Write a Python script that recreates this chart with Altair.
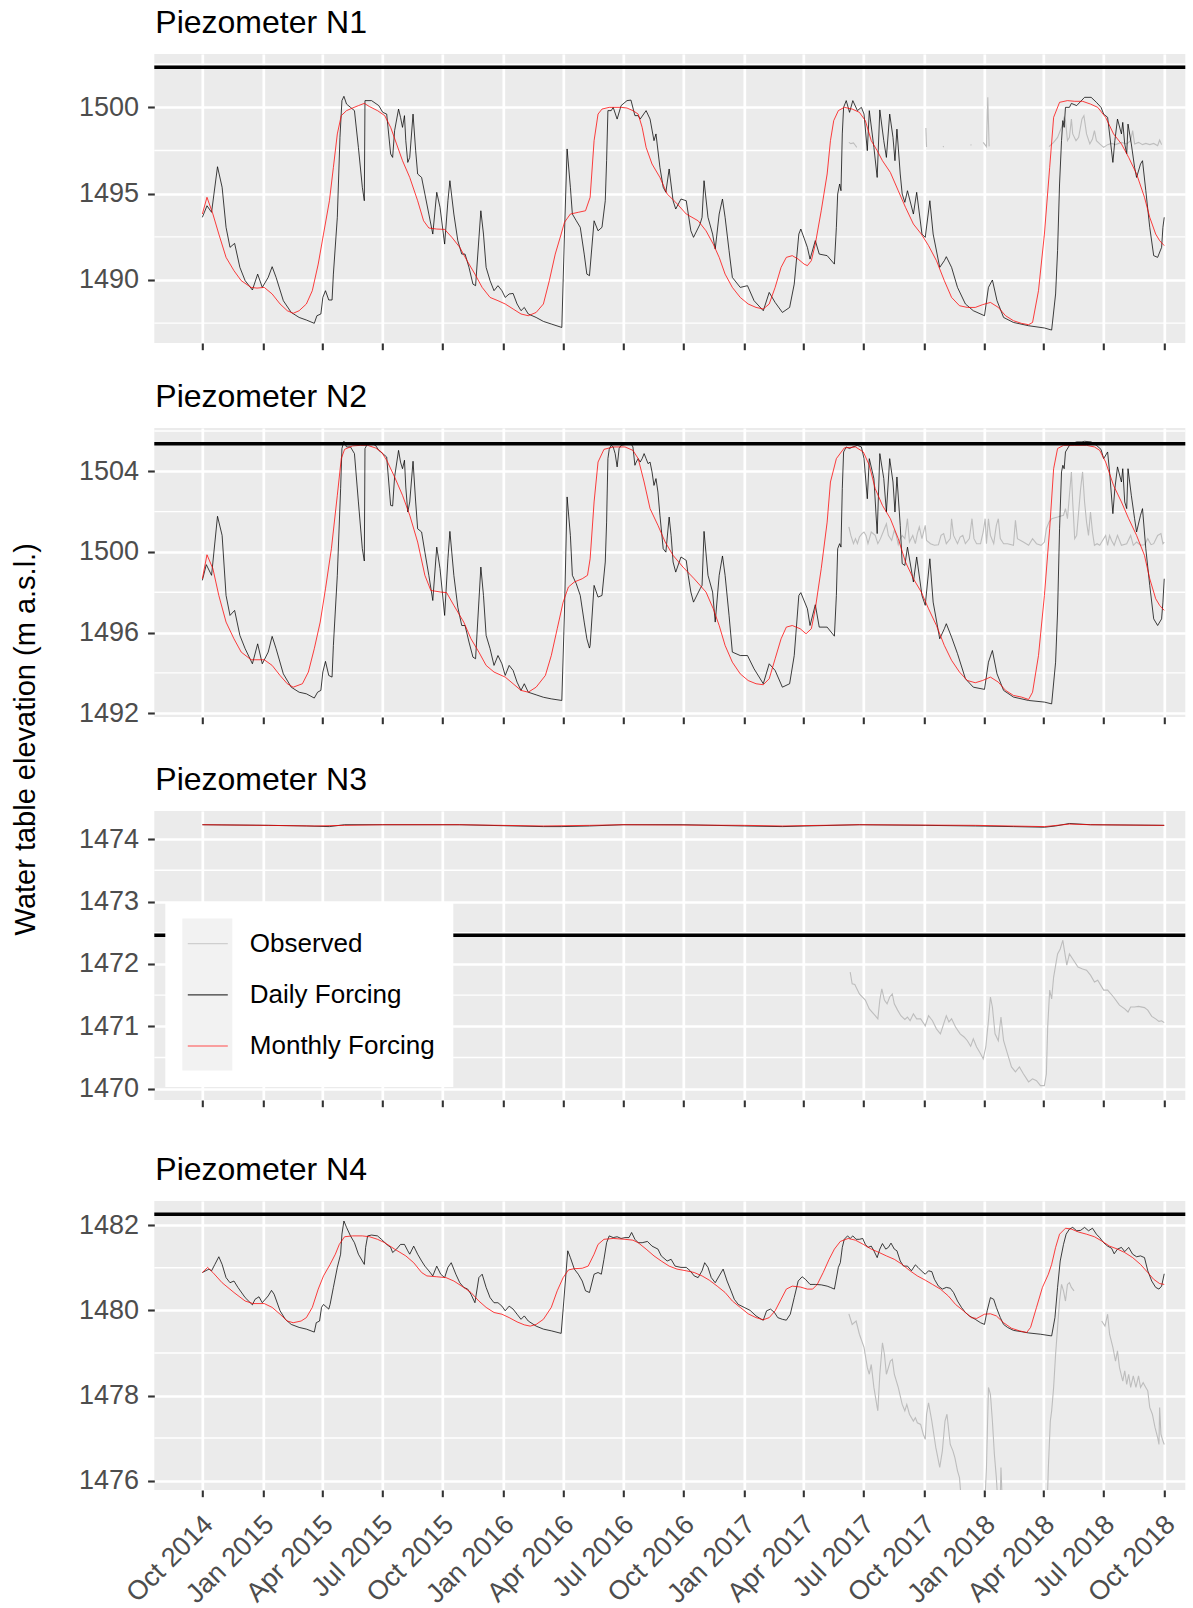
import altair as alt
import pandas as pd

FONT = "Liberation Sans"
START = pd.Timestamp("2014-10-01")

# ---------------- Piezometer N1 ----------------
n1_daily_days = [0,7,14,23,30,36,42,49,57,65,76,84,91,100,106,112,123,135,147,158,170,174,180,183,187,192,197,199,205,209,
 212,215,219,225,231,237,243,246,247,257,268,274,280,286,289,292,298,301,304,307,309,312,315,320,324,327,333,338,344,350,
 356,361,368,373,376,382,388,394,399,405,411,415,423,427,431,437,443,449,455,460,466,472,478,484,489,495,507,518,530,546,
 550,554,559,562,568,574,580,584,588,
 595,601,607,612,614,616,621,624,630,636,645,651,657,662,665,674,680,686,689,695,700,704,709,715,719,727,735,742,746,756,
 759,762,768,775,779,785,790,794,800,805,817,828,838,852,861,870,881,892,899,906,909,919,923,931,937,949,960,963,965,968,
 970,972,974,978,983,988,995,1001,1005,1010,1013,1020,1025,1029,1035,1039,1044,1049,1052,1055,1060,1063,1067,1071,1080,
 1085,1093,1098,1105,1110,1120,1127,1130,1138,1147,1159,1171,1188,1194,1200,1207,1217,1232,1255,1279,1290,1296,1299,1302,
 1305,1307,1309,1311,1317,1320,1328,1336,1340,1350,1358,1365,1369,1375,1378,1383,1386,1390,1396,1398,1401,1404,1406,1411,
 1416,1419,1425,1428,1433,1439,1445,1451,1457,1459,1461]
n1_daily_vals = [1493.63,1494.30,1493.92,1496.56,1495.37,1493.05,1491.89,1492.12,1490.73,1489.96,1489.42,1490.34,1489.57,
 1490.15,1490.77,1490.15,1488.80,1488.12,1487.83,1487.68,1487.49,1487.93,1488.03,1488.99,1489.38,1488.84,1488.84,1490.34,
 1493.63,1498.26,1500.39,1500.64,1500.19,1500.00,1499.81,1497.68,1495.37,1494.59,1500.39,1500.39,1500.10,1499.71,1499.61,
 1497.30,1497.10,1498.65,1499.90,1499.42,1498.84,1499.52,1498.07,1496.81,1497.10,1499.61,1497.49,1496.14,1495.94,1494.98,
 1493.82,1492.66,1495.08,1494.21,1492.08,1494.59,1495.75,1493.82,1492.28,1491.50,1491.50,1490.73,1489.76,1489.67,1494.01,
 1492.66,1490.73,1489.96,1489.38,1489.67,1489.38,1488.99,1489.19,1489.22,1488.61,1488.22,1488.41,1488.03,1487.83,1487.60,
 1487.45,1487.25,1492.66,1497.59,1495.37,1493.82,1493.43,1493.05,1491.50,1490.34,1490.25,
 1493.43,1492.85,1493.05,1494.59,1496.91,1499.81,1499.81,1500.00,1499.32,1500.10,1500.39,1500.42,1499.52,1499.52,1499.32,
 1499.81,1499.32,1498.07,1498.46,1496.52,1495.37,1495.08,1496.43,1494.59,1494.11,1494.69,1494.59,1492.85,1492.47,1493.24,
 1493.63,1495.75,1493.63,1492.66,1491.79,1493.82,1494.69,1493.63,1491.70,1490.15,1489.57,1489.67,1488.80,1488.22,1489.28,
 1488.70,1488.12,1488.41,1489.76,1492.66,1492.95,1491.89,1491.21,1492.28,1491.50,1491.41,1490.92,1493.05,1494.98,1495.56,
 1495.17,1498.46,1500.00,1500.39,1499.71,1500.39,1499.81,1500.00,1499.61,1497.49,1499.81,1497.68,1495.94,1499.85,1498.07,
 1497.10,1499.61,1498.26,1496.91,1498.74,1496.14,1494.98,1494.50,1495.17,1493.82,1495.08,1492.66,1492.47,1494.59,1492.66,
 1490.73,1491.12,1491.35,1490.73,1489.57,1488.61,1488.22,1487.93,1489.57,1490.00,1488.80,1487.83,1487.54,1487.35,1487.22,
 1487.10,1489.19,1491.70,1495.56,1498.07,1499.23,1498.84,1500.00,1500.00,1500.23,1500.10,1500.42,1500.58,1500.58,1500.29,
 1500.00,1499.61,1499.42,1498.46,1496.81,1498.07,1499.32,1498.46,1499.13,1497.88,1497.30,1499.03,1497.88,1496.52,1495.94,
 1496.72,1496.91,1495.17,1493.05,1491.41,1491.31,1491.89,1493.05,1493.63]
n1_monthly_days = [0,7,16,25,36,48,59,74,83,94,106,118,129,138,147,158,167,176,184,193,199,205,211,219,228,237,246,254,266,
 277,286,295,304,315,327,336,344,356,368,379,391,402,414,425,437,449,460,472,484,495,507,518,527,536,545,550,559,571,582,
 589,595,601,607,618,636,645,654,662,668,674,683,695,706,719,735,753,765,776,785,794,805,817,829,841,852,861,870,879,887,
 896,905,914,919,925,931,940,949,954,959,966,975,987,998,1007,1016,1025,1033,1045,1057,1068,1080,1092,1103,1115,1127,1138,
 1150,1162,1174,1185,1197,1209,1220,1232,1244,1255,1261,1270,1279,1287,1293,1302,1314,1325,1337,1349,1360,1372,1384,1396,
 1407,1419,1431,1439,1448,1454,1461]
n1_monthly_vals = [1493.82,1494.79,1493.82,1492.66,1491.31,1490.54,1489.96,1489.57,1489.53,1489.57,1489.19,1488.61,1488.22,
 1488.07,1488.22,1488.61,1489.38,1490.92,1492.66,1494.59,1496.52,1498.46,1499.52,1499.81,1499.96,1500.10,1500.23,1500.04,
 1499.81,1499.52,1498.84,1497.88,1496.91,1495.94,1494.59,1493.43,1493.01,1492.95,1492.93,1492.47,1491.89,1491.12,1490.34,
 1489.57,1488.99,1488.80,1488.61,1488.32,1488.03,1487.93,1488.12,1488.61,1489.96,1491.50,1492.66,1493.34,1493.82,1493.92,
 1494.01,1494.79,1498.07,1499.61,1499.90,1500.00,1500.00,1499.96,1499.81,1499.61,1498.84,1497.68,1496.72,1495.94,1494.98,
 1494.50,1493.82,1493.43,1492.85,1492.08,1491.31,1490.34,1489.57,1488.99,1488.61,1488.41,1488.32,1488.61,1489.57,1490.73,
 1491.31,1491.41,1491.21,1490.92,1490.83,1491.12,1492.08,1494.01,1496.14,1498.07,1499.23,1499.81,1500.00,1499.90,1499.71,
 1499.23,1498.07,1497.49,1496.91,1496.23,1495.17,1494.21,1493.24,1492.66,1491.99,1491.12,1489.96,1488.99,1488.51,1488.41,
 1488.41,1488.57,1488.70,1488.41,1487.93,1487.64,1487.49,1487.41,1487.54,1489.38,1492.66,1496.52,1499.42,1500.29,1500.39,
 1500.35,1500.35,1500.19,1500.00,1499.42,1498.46,1497.88,1497.10,1496.14,1494.79,1493.63,1492.66,1492.28,1491.99]
n1_observed = [
 ([982,985,989,992,994], [1497.97,1497.90,1497.94,1497.79,1497.68]),
 ([1099,1100], [1498.80,1497.70]),
 ([1125,1126], [1497.75,1497.70]),
 ([1167,1168], [1497.85,1497.80]),
 ([1186,1191,1193,1195], [1497.97,1497.72,1500.58,1497.74]),
 ([1286,1293,1299,1305,1309,1311,1314,1317,1320,1322,1327,1331,1336,1339,1343,1348,1352,1355,1358,1363,1369,1375,1381,
   1387,1396,1404,1410,1413,1416,1422,1428,1433,1439,1445,1451,1454,1457],
  [1497.72,1497.97,1498.26,1498.84,1499.42,1499.23,1498.07,1498.26,1499.32,1498.46,1498.07,1498.26,1499.32,1499.52,1498.46,
   1497.88,1498.17,1498.65,1498.07,1497.88,1497.68,1497.84,1497.91,1497.84,1497.97,1497.88,1498.07,1498.65,1497.88,1497.97,
   1497.84,1497.91,1497.84,1497.91,1497.78,1498.11,1497.84]),
]
n1_surface = 1502.32

# ---------------- Piezometer N2 ----------------
n2_daily_days = [0,6,14,23,30,36,42,49,57,65,76,84,91,100,106,112,123,135,147,158,170,175,180,183,187,192,197,199,205,210,
 212,215,219,225,231,237,243,246,247,251,257,263,268,274,280,286,289,292,298,301,304,307,309,312,315,320,324,327,333,338,
 344,350,356,361,368,373,376,382,388,394,399,405,411,415,423,427,431,437,443,449,455,460,466,472,478,484,489,495,507,518,
 530,546,550,554,559,562,568,574,580,584,588,
 589,595,601,607,612,614,616,618,621,624,627,630,633,636,641,645,651,654,657,659,662,665,668,671,674,677,680,683,686,689,
 692,695,700,704,709,712,715,719,727,735,738,742,746,756,759,762,768,775,779,785,790,794,800,805,817,828,838,852,861,870,
 881,892,899,906,909,919,923,931,937,949,960,963,965,968,970,972,974,978,983,988,995,1001,1005,1010,1013,1020,1025,1029,
 1035,1039,1044,1049,1052,1055,1060,1063,1067,1071,1080,1085,1093,1098,1105,1110,1120,1127,1130,1138,1147,1159,1171,1188,
 1194,1200,1207,1217,1232,1255,1279,1290,1296,1299,1302,1305,1307,1309,1311,1317,1320,1328,1336,1340,1350,1358,1365,1369,
 1375,1378,1383,1386,1390,1396,1398,1401,1404,1406,1411,1416,1419,1425,1428,1433,1439,1445,1451,1457,1459,1461]
n2_daily_vals = [1498.59,1499.37,1498.84,1501.77,1500.82,1497.84,1496.85,1497.10,1495.86,1495.20,1494.45,1495.44,1494.45,
 1495.03,1495.81,1495.20,1493.95,1493.29,1493.04,1492.96,1492.75,1493.04,1493.13,1494.04,1494.57,1493.87,1493.79,1495.36,
 1498.84,1503.14,1505.13,1505.49,1505.21,1505.21,1504.88,1502.48,1500.16,1499.55,1505.13,1505.37,1505.37,1505.29,1505.04,
 1504.88,1504.71,1502.31,1502.28,1503.72,1505.04,1504.46,1504.13,1504.55,1503.22,1501.98,1502.48,1504.50,1502.48,1501.15,
 1500.99,1499.99,1498.84,1497.59,1500.24,1499.17,1496.85,1499.66,1501.02,1498.84,1497.26,1496.35,1496.35,1495.53,1494.78,
 1494.70,1499.25,1497.84,1495.86,1495.20,1494.37,1494.86,1494.45,1493.87,1494.37,1494.12,1493.54,1493.13,1493.46,1493.04,
 1492.91,1492.79,1492.71,1492.63,1497.02,1502.73,1500.82,1498.84,1498.42,1497.84,1496.52,1495.69,1495.23,
 1495.36,1498.34,1497.76,1497.84,1499.50,1501.48,1504.63,1505.09,1505.29,1505.21,1504.88,1504.22,1505.13,1505.29,1505.32,
 1505.37,1505.37,1505.21,1504.30,1504.46,1504.63,1504.46,1504.63,1504.88,1504.63,1504.38,1504.46,1503.97,1503.30,1503.64,
 1502.97,1501.82,1500.16,1499.99,1501.73,1500.82,1499.50,1499.00,1499.75,1499.58,1498.84,1498.01,1497.51,1498.17,1498.34,
 1501.02,1498.84,1498.01,1496.52,1498.84,1499.80,1498.84,1496.85,1495.03,1494.86,1494.86,1494.20,1493.46,1494.45,1494.12,
 1493.29,1493.46,1494.86,1497.84,1497.98,1497.18,1496.35,1497.38,1496.27,1496.27,1495.82,1497.84,1500.16,1500.41,1500.24,
 1503.14,1504.96,1505.21,1505.13,1505.21,1505.29,1505.21,1504.63,1502.64,1504.63,1503.64,1500.91,1504.88,1503.64,1501.98,
 1504.63,1503.47,1501.98,1503.72,1501.32,1499.42,1499.33,1500.24,1498.51,1499.75,1497.84,1497.35,1499.66,1497.51,1495.69,
 1496.19,1496.44,1495.77,1494.95,1493.71,1493.29,1493.18,1494.53,1495.11,1493.95,1493.13,1492.80,1492.63,1492.55,1492.46,
 1494.53,1497.02,1501.15,1503.97,1504.30,1504.13,1504.96,1505.29,1505.37,1505.46,1505.46,1505.49,1505.46,1505.29,1505.09,
 1504.63,1504.96,1503.97,1501.90,1503.14,1504.22,1503.47,1504.13,1502.48,1502.15,1504.13,1502.81,1501.65,1500.99,1501.82,
 1502.15,1500.16,1498.34,1496.68,1496.35,1496.68,1497.51,1498.67]
n2_monthly_days = [0,7,16,25,36,48,59,74,94,106,118,129,138,152,161,170,179,187,196,205,211,216,228,240,251,263,272,280,292,
 304,315,327,338,347,362,371,382,397,408,420,431,443,460,472,484,495,507,521,530,539,548,556,565,577,585,589,595,601,610,
 624,642,654,662,671,680,692,703,715,730,747,765,776,785,794,805,817,829,841,852,861,870,879,887,896,908,917,925,931,940,
 949,954,963,975,992,1004,1013,1022,1033,1045,1057,1068,1080,1092,1103,1115,1127,1138,1150,1162,1174,1185,1197,1209,1220,
 1232,1244,1255,1261,1270,1279,1287,1293,1299,1308,1325,1343,1355,1363,1372,1384,1396,1407,1419,1431,1439,1448,1454,1461]
n2_monthly_vals = [1498.67,1499.86,1499.17,1497.84,1496.52,1495.69,1495.03,1494.65,1494.65,1494.37,1493.87,1493.46,1493.29,
 1493.46,1494.04,1495.20,1496.52,1498.17,1500.16,1502.81,1504.63,1505.09,1505.26,1505.29,1505.29,1505.16,1504.96,1504.55,
 1503.72,1502.81,1501.82,1500.49,1498.84,1498.09,1498.01,1497.98,1497.35,1496.52,1495.69,1495.03,1494.37,1494.04,1493.79,
 1493.46,1493.13,1493.04,1493.29,1493.87,1494.86,1496.19,1497.51,1498.26,1498.51,1498.67,1498.84,1499.66,1502.48,1504.46,
 1505.09,1505.21,1505.21,1505.04,1504.63,1503.47,1502.15,1501.32,1500.49,1499.83,1499.25,1498.67,1498.01,1497.18,1496.35,
 1495.36,1494.53,1493.95,1493.62,1493.46,1493.41,1493.71,1494.70,1495.69,1496.27,1496.35,1496.19,1495.94,1496.19,1497.18,
 1499.17,1501.48,1503.47,1504.63,1505.16,1505.21,1504.96,1504.30,1503.14,1502.31,1501.65,1500.66,1499.50,1498.67,1498.01,
 1497.18,1496.35,1495.36,1494.62,1494.04,1493.62,1493.51,1493.62,1493.79,1493.54,1493.13,1492.88,1492.80,1492.68,1493.04,
 1494.86,1497.84,1501.15,1504.13,1505.13,1505.29,1505.29,1505.29,1505.21,1505.04,1504.46,1503.30,1502.48,1501.65,1500.82,
 1499.83,1498.67,1497.68,1497.35,1497.10]
n2_observed = [
 ([982,985,989,992,995,998,1002,1005,1008,1011,1016,1022,1026,1030,1036,1039,1042,1047,1051,1054,1057,1060,1063,1067,1071,
   1074,1079,1083,1086,1089,1093,1098,1100,1106,1112,1118,1122,1126,1130,1136,1138,1141,1147,1151,1155,1159,1165,1169,1172,
   1176,1182,1186,1189,1191,1194,1197,1202,1206,1209,1212,1217,1223,1232,1235,1238,1247,1255,1261,1267,1274,1279,1282,1286,
   1290,1299,1308,1311,1314,1317,1320,1322,1325,1328,1331,1334,1337,1340,1343,1346,1349,1352,1355,1359,1363,1372,1375,1378,
   1381,1385,1390,1396,1404,1410,1414,1419,1425,1431,1436,1441,1445,1451,1456,1459,1461],
  [1501.24,1500.82,1500.41,1500.66,1500.41,1500.74,1500.91,1500.99,1500.82,1500.41,1500.99,1500.82,1500.41,1500.66,1501.15,
   1501.40,1500.82,1500.57,1501.07,1500.82,1500.36,1500.66,1500.82,1500.66,1501.65,1500.49,1500.82,1500.41,1500.91,1501.24,
   1500.66,1501.32,1500.57,1500.41,1500.33,1500.36,1500.82,1500.91,1500.41,1500.66,1501.65,1500.82,1500.41,1500.74,1500.82,
   1500.41,1500.66,1501.65,1500.66,1500.41,1500.41,1500.99,1501.65,1500.41,1501.65,1500.82,1500.41,1501.32,1501.65,1500.66,
   1500.41,1500.41,1500.33,1501.57,1500.66,1500.49,1500.33,1500.66,1500.41,1500.33,1500.49,1501.15,1501.48,1501.65,1501.73,
   1501.82,1502.15,1501.65,1502.81,1503.97,1502.48,1500.66,1500.82,1501.98,1503.14,1503.97,1502.48,1501.48,1500.82,1501.98,
   1500.99,1500.33,1500.41,1500.33,1500.82,1500.33,1500.82,1500.57,1500.33,1500.82,1500.33,1500.41,1500.82,1500.33,1500.49,
   1500.33,1500.36,1500.66,1500.36,1500.41,1500.82,1500.91,1500.41,1500.49]),
]
n2_surface = 1505.37

# ---------------- Piezometer N3 ----------------
n3_daily_days = [0,100,158,193,216,274,391,518,546,588,639,730,823,881,917,998,1098,1174,1232,1279,1296,1317,1349,1461]
n3_daily_vals = [1474.23,1474.22,1474.21,1474.20,1474.23,1474.23,1474.23,1474.20,1474.20,1474.21,1474.23,1474.23,1474.21,
 1474.20,1474.21,1474.23,1474.22,1474.21,1474.20,1474.19,1474.21,1474.25,1474.23,1474.22]
n3_monthly_days = [0,100,170,216,274,391,518,588,639,823,881,998,1174,1279,1317,1349,1461]
n3_monthly_vals = [1474.23,1474.22,1474.21,1474.22,1474.23,1474.23,1474.21,1474.22,1474.23,1474.22,1474.21,1474.23,1474.22,
 1474.20,1474.24,1474.23,1474.22]
n3_observed = [
 ([984,987,991,998,1007,1013,1022,1026,1029,1032,1036,1040,1044,1048,1051,1056,1061,1067,1071,1075,1080,1085,1091,1098,1103,
   1109,1115,1121,1126,1130,1134,1138,1144,1151,1157,1162,1167,1171,1176,1182,1186,1190,1194,1197,1200,1204,1209,1213,1217,
   1223,1229,1235,1241,1247,1255,1261,1267,1273,1279,1282,1284,1287,1290,1293,1299,1303,1307,1309,1313,1317,1322,1330,1337,
   1343,1349,1355,1360,1369,1375,1384,1393,1401,1406,1410,1416,1422,1431,1436,1442,1448,1453,1457,1461],
  [1471.87,1471.68,1471.67,1471.52,1471.42,1471.28,1471.17,1471.12,1471.42,1471.60,1471.42,1471.36,1471.47,1471.52,1471.36,
   1471.26,1471.17,1471.11,1471.15,1471.09,1471.20,1471.12,1471.12,1471.01,1471.17,1471.09,1470.96,1470.88,1471.04,1471.17,
   1471.07,1471.12,1470.99,1470.88,1470.83,1470.77,1470.68,1470.80,1470.67,1470.56,1470.48,1470.67,1471.09,1471.47,1471.31,
   1470.88,1470.77,1471.15,1470.77,1470.56,1470.35,1470.27,1470.35,1470.24,1470.11,1470.16,1470.13,1470.05,1470.05,1470.24,
   1470.99,1471.58,1471.44,1471.79,1472.16,1472.24,1472.38,1472.24,1471.98,1472.16,1472.08,1471.95,1471.92,1471.90,1471.82,
   1471.71,1471.74,1471.58,1471.58,1471.47,1471.34,1471.28,1471.23,1471.31,1471.31,1471.32,1471.30,1471.26,1471.16,1471.12,
   1471.08,1471.09,1471.06]),
]
n3_surface = 1472.46

# ---------------- Piezometer N4 ----------------
n4_daily_days = [0,10,14,19,25,30,36,42,48,54,65,76,80,86,91,100,105,109,118,126,135,147,158,170,173,178,181,184,192,194,
 199,205,210,212,215,219,225,231,237,243,246,248,251,257,266,272,280,286,289,295,301,307,312,315,321,327,333,338,344,350,
 356,362,368,373,378,385,391,397,403,408,414,420,425,431,437,443,449,455,460,466,472,478,484,489,495,507,518,530,545,549,
 555,559,565,571,577,582,588,
 595,601,606,610,614,618,624,630,636,642,648,652,657,662,668,676,683,692,697,706,712,718,727,735,741,747,753,759,763,768,
 773,779,785,791,797,803,808,814,823,832,841,849,852,857,863,869,874,881,887,893,899,905,911,916,923,931,940,949,954,960,
 966,969,972,975,980,984,988,993,998,1003,1007,1011,1016,1020,1025,1029,1033,1038,1042,1046,1051,1055,1060,1065,1071,1077,
 1083,1087,1092,1098,1103,1108,1112,1118,1124,1130,1136,1141,1147,1153,1159,1165,1174,1182,1188,1192,1197,1202,1206,1212,
 1217,1223,1232,1244,1255,1273,1290,1295,1299,1303,1308,1312,1317,1322,1328,1334,1340,1346,1352,1358,1363,1369,1375,1381,
 1385,1390,1396,1401,1407,1413,1419,1425,1431,1436,1442,1448,1453,1457,1461]
n4_daily_vals = [1480.89,1480.97,1480.93,1481.08,1481.26,1481.08,1480.77,1480.65,1480.69,1480.54,1480.30,1480.13,1480.26,
 1480.32,1480.18,1480.34,1480.47,1480.38,1479.99,1479.79,1479.67,1479.60,1479.56,1479.49,1479.71,1479.75,1480.07,1480.14,
 1480.03,1480.14,1480.54,1481.01,1481.32,1481.79,1482.10,1481.95,1481.75,1481.59,1481.32,1481.16,1481.08,1481.48,1481.75,
 1481.77,1481.75,1481.67,1481.55,1481.48,1481.36,1481.44,1481.55,1481.55,1481.40,1481.32,1481.51,1481.32,1481.16,1481.04,
 1480.93,1480.81,1481.04,1480.85,1480.77,1481.01,1481.12,1480.85,1480.65,1480.54,1480.50,1480.38,1480.18,1480.77,1480.85,
 1480.54,1480.30,1480.18,1480.18,1480.10,1479.99,1480.10,1480.03,1479.91,1479.79,1479.87,1479.75,1479.63,1479.56,1479.52,
 1479.46,1480.22,1481.40,1481.24,1480.97,1480.85,1480.69,1480.46,1480.42,
 1480.85,1480.89,1480.85,1481.20,1481.59,1481.75,1481.71,1481.73,1481.69,1481.71,1481.71,1481.83,1481.67,1481.59,1481.59,
 1481.62,1481.51,1481.44,1481.28,1481.16,1481.20,1481.04,1481.01,1481.01,1480.93,1480.81,1480.77,1480.93,1481.12,1481.01,
 1480.77,1480.65,1480.81,1480.97,1480.69,1480.46,1480.26,1480.14,1480.07,1480.00,1479.87,1479.79,1479.77,1479.99,1480.03,
 1479.95,1479.83,1479.79,1479.77,1479.91,1480.30,1480.69,1480.79,1480.73,1480.61,1480.61,1480.60,1480.57,1480.54,1480.50,
 1481.01,1481.12,1481.48,1481.67,1481.75,1481.69,1481.75,1481.67,1481.67,1481.69,1481.55,1481.48,1481.51,1481.40,1481.24,
 1481.44,1481.57,1481.44,1481.48,1481.58,1481.44,1481.40,1481.16,1481.04,1481.04,1480.93,1481.07,1481.01,1480.93,1480.85,
 1480.93,1480.91,1480.73,1480.57,1480.50,1480.54,1480.52,1480.42,1480.22,1480.07,1479.95,1479.87,1479.79,1479.71,1479.67,
 1479.99,1480.30,1480.26,1480.07,1479.83,1479.67,1479.60,1479.53,1479.50,1479.47,1479.44,1479.40,1479.83,1480.54,1481.16,
 1481.55,1481.79,1481.91,1481.95,1481.87,1481.88,1481.95,1481.87,1481.93,1481.79,1481.71,1481.59,1481.51,1481.46,1481.33,
 1481.44,1481.48,1481.38,1481.48,1481.32,1481.26,1481.28,1481.24,1480.93,1480.69,1480.54,1480.50,1480.57,1480.86]
n4_monthly_days = [0,8,16,30,48,65,77,94,106,118,129,138,150,158,167,176,184,194,202,208,216,228,243,254,266,277,292,309,321,
 333,341,356,370,382,397,408,420,431,443,455,466,478,489,498,507,518,530,539,548,556,565,577,586,595,601,610,624,642,654,
 662,674,686,697,709,721,735,747,759,770,782,794,805,817,829,841,852,861,870,879,887,896,908,919,927,934,943,952,960,969,
 981,992,1004,1016,1028,1039,1051,1063,1074,1086,1098,1109,1121,1133,1144,1156,1168,1176,1188,1197,1206,1217,1229,1241,
 1252,1258,1267,1276,1285,1290,1296,1302,1311,1320,1331,1343,1355,1366,1378,1390,1401,1413,1425,1436,1445,1454,1461]
n4_monthly_vals = [1480.89,1481.01,1480.89,1480.65,1480.42,1480.22,1480.16,1480.16,1480.07,1479.91,1479.75,1479.71,1479.75,
 1479.83,1480.07,1480.50,1480.81,1481.08,1481.32,1481.55,1481.73,1481.75,1481.75,1481.73,1481.67,1481.59,1481.44,1481.28,
 1481.12,1480.89,1480.81,1480.79,1480.77,1480.69,1480.54,1480.42,1480.22,1480.07,1479.95,1479.91,1479.83,1479.73,1479.66,
 1479.63,1479.67,1479.79,1480.07,1480.46,1480.77,1480.95,1480.98,1480.99,1481.04,1481.32,1481.55,1481.67,1481.69,1481.67,
 1481.65,1481.59,1481.44,1481.28,1481.16,1481.04,1480.97,1480.93,1480.89,1480.81,1480.71,1480.57,1480.42,1480.22,1480.07,
 1479.92,1479.83,1479.78,1479.83,1479.99,1480.26,1480.50,1480.57,1480.55,1480.50,1480.50,1480.61,1480.89,1481.20,1481.44,
 1481.62,1481.69,1481.65,1481.55,1481.44,1481.36,1481.28,1481.20,1481.08,1480.94,1480.81,1480.71,1480.61,1480.50,1480.34,
 1480.14,1479.99,1479.83,1479.81,1479.91,1479.92,1479.87,1479.71,1479.58,1479.52,1479.48,1479.60,1480.07,1480.54,1480.85,
 1481.08,1481.48,1481.79,1481.93,1481.91,1481.84,1481.79,1481.73,1481.63,1481.51,1481.44,1481.36,1481.24,1481.08,1480.89,
 1480.73,1480.63,1480.61]
n4_observed = [
 ([982,987,993,998,1005,1010,1013,1016,1020,1025,1026,1029,1033,1036,1039,1045,1048,1051,1057,1063,1067,1070,1074,1080,1083,
   1086,1091,1095,1098,1100,1103,1108,1114,1120,1124,1128,1131,1136,1140,1143,1147,1150,1154,1188,1191,1194,1197,1200,1203,
   1206,1209,1212,1213,1215,1283,1285,1288,1290,1293,1296,1299,1302,1305,1308,1311,1314,1317,1320,1324],
  [1479.92,1479.67,1479.75,1479.44,1479.13,1478.66,1478.50,1478.73,1478.19,1477.72,1477.64,1478.50,1479.24,1478.97,1478.50,
   1478.81,1478.85,1478.50,1478.19,1477.79,1477.64,1477.79,1477.56,1477.40,1477.48,1477.36,1477.32,1477.09,1476.97,1477.56,
   1477.83,1477.40,1476.78,1476.31,1476.70,1477.40,1477.56,1476.85,1476.70,1476.54,1476.23,1476.07,1475.30,1475.30,1476.31,
   1478.19,1478.03,1477.40,1476.62,1476.07,1475.30,1475.60,1476.31,1475.50,1475.30,1476.31,1477.40,1477.64,1478.19,1478.97,
   1479.60,1480.22,1480.61,1480.46,1480.22,1480.61,1480.65,1480.54,1480.46]),
 ([1366,1371,1375,1378,1383,1387,1390,1393,1398,1401,1404,1407,1410,1414,1418,1422,1425,1429,1433,1436,1439,1443,1447,1451,
   1453,1454,1456,1459,1461],
  [1479.75,1479.63,1479.91,1479.44,1479.13,1478.81,1479.05,1478.66,1478.34,1478.58,1478.26,1478.50,1478.19,1478.46,1478.19,
   1478.46,1478.19,1478.30,1478.19,1478.11,1477.72,1477.56,1477.25,1477.01,1476.85,1477.72,1477.09,1476.93,1476.85]),
]
n4_surface = 1482.26

# ---------------- axes / legend ----------------
panel_names = ["Piezometer N1", "Piezometer N2", "Piezometer N3", "Piezometer N4"]
y_domains = [[1486.35, 1503.09], [1491.81, 1506.15], [1469.82, 1474.45], [1475.78, 1482.57]]
y_major = [[1490, 1495, 1500], [1492, 1496, 1500, 1504], [1470, 1471, 1472, 1473, 1474], [1476, 1478, 1480, 1482]]
y_minor = [[1487.5, 1492.5, 1497.5, 1502.5], [1494, 1498, 1502, 1506], [1470.5, 1471.5, 1472.5, 1473.5], [1477, 1479, 1481]]
tick_months = [(2014, 10), (2015, 1), (2015, 4), (2015, 7), (2015, 10), (2016, 1), (2016, 4), (2016, 7), (2016, 10),
               (2017, 1), (2017, 4), (2017, 7), (2017, 10), (2018, 1), (2018, 4), (2018, 7), (2018, 10)]
legend_labels = ["Observed", "Daily Forcing", "Monthly Forcing"]
legend_colors = ["#CFCFCF", "#3A3A3A", "#FF4A4A"]

OBS_COLOR = "#BDBDBD"
DAILY_COLOR = "#000000"
MONTHLY_COLOR = "#FF0000"
PANEL_W, PANEL_H = 1031, 289
DUMMY = pd.DataFrame({"k": [0]})

x_domain = [alt.DateTime(year=2014, month=7, date=20), alt.DateTime(year=2018, month=11, date=2)]
x_ticks = [alt.DateTime(year=y, month=m, date=1) for y, m in tick_months]


def to_df(days, vals, seg=0):
    d = pd.DataFrame({"day": days, "value": vals})
    d["date"] = (START + pd.to_timedelta(d["day"], unit="D")).dt.strftime("%Y-%m-%dT%H:%M:%S")
    d["seg"] = seg
    return d[["date", "value", "seg"]]


def make_panel(i, daily, monthly, observed, surface, top_extent, show_labels, legend=False):
    xaxis = alt.Axis(values=x_ticks, format="%b %Y", labels=show_labels, grid=True, title=None)
    xenc = alt.X("date:T", scale=alt.Scale(domain=x_domain, nice=False), axis=xaxis)
    yenc = alt.Y("value:Q", scale=alt.Scale(domain=y_domains[i], nice=False, zero=False),
                 axis=alt.Axis(values=y_major[i], format="d", grid=True, title=None))
    obs_df = pd.concat([to_df(d, v, k) for k, (d, v) in enumerate(observed)], ignore_index=True)
    layers = [
        alt.Chart(pd.DataFrame({"value": y_minor[i]})).mark_rule(color="white", strokeWidth=1.4).encode(y=yenc),
        alt.Chart(obs_df).mark_line(color=OBS_COLOR, strokeWidth=1.1, clip=True).encode(x=xenc, y=yenc, detail="seg:N"),
        alt.Chart(to_df(*daily)).mark_line(color=DAILY_COLOR, strokeWidth=1.0, opacity=0.75, clip=True).encode(x=xenc, y=yenc),
        alt.Chart(to_df(*monthly)).mark_line(color=MONTHLY_COLOR, strokeWidth=1.0, opacity=0.75, clip=True).encode(x=xenc, y=yenc),
        alt.Chart(pd.DataFrame({"value": [surface]})).mark_rule(color="black", strokeWidth=3.5).encode(y=yenc),
        alt.Chart(DUMMY).mark_text(text=panel_names[i], align="left", baseline="alphabetic", fontSize=32,
                                   font=FONT, color="black").encode(x=alt.value(1), y=alt.value(-21)),
        alt.Chart(DUMMY).mark_rule(strokeOpacity=0, color="white").encode(
            x=alt.value(0), x2=alt.value(4), y=alt.value(-top_extent)),
    ]
    if legend:
        layers.append(alt.Chart(DUMMY).mark_rect(color="white").encode(
            x=alt.value(11), x2=alt.value(299), y=alt.value(91), y2=alt.value(276)))
        layers.append(alt.Chart(DUMMY).mark_rect(color="#F2F2F2").encode(
            x=alt.value(28), x2=alt.value(78), y=alt.value(107.5), y2=alt.value(259.5)))
        for j, (lab, col) in enumerate(zip(legend_labels, legend_colors)):
            yy = 132.6 + j * 51.2
            layers.append(alt.Chart(DUMMY).mark_rule(color=col, strokeWidth=1.2).encode(
                x=alt.value(33.5), x2=alt.value(73.5), y=alt.value(yy)))
            layers.append(alt.Chart(DUMMY).mark_text(text=lab, align="left", baseline="middle", fontSize=26,
                                                     font=FONT, color="black").encode(x=alt.value(95.5), y=alt.value(yy)))
    return alt.layer(*layers).properties(
        width=PANEL_W, height=PANEL_H, view=alt.ViewBackground(fill="#EBEBEB", stroke=None))


p1 = make_panel(0, (n1_daily_days, n1_daily_vals), (n1_monthly_days, n1_monthly_vals), n1_observed, n1_surface, 53.3, False)
p2 = make_panel(1, (n2_daily_days, n2_daily_vals), (n2_monthly_days, n2_monthly_vals), n2_observed, n2_surface, 66.3, False)
p3 = make_panel(2, (n3_daily_days, n3_daily_vals), (n3_monthly_days, n3_monthly_vals), n3_observed, n3_surface, 73.6, False, legend=True)
p4 = make_panel(3, (n4_daily_days, n4_daily_vals), (n4_monthly_days, n4_monthly_vals), n4_observed, n4_surface, 82.6, True)

body = alt.vconcat(p1, p2, p3, p4, spacing=10)

ytitle = alt.Chart(DUMMY).mark_text(
    text="Water table elevation (m a.s.l.)", angle=270, fontSize=29, font=FONT, color="black",
    align="center", baseline="middle").encode(x=alt.value(26), y=alt.value(685.3)).properties(
    width=60, height=1000, view=alt.ViewBackground(stroke=None))

chart = alt.hconcat(ytitle, body, spacing=18.3).properties(
    padding=0, background="white"
).configure_view(stroke=None).configure_axis(
    labelFont=FONT, labelFontSize=27, labelColor="#4D4D4D", tickColor="#333333", tickWidth=2.1,
    tickSize=6.7, domain=False, gridColor="white", gridWidth=2.7, labelPadding=9
).configure_axisX(
    labelAngle=315, labelAlign="right", labelBaseline="top", labelPadding=14, labelOffset=-3,
    labelOverlap=False, labelFlush=False, labelBound=False
)

chart.save("out.html", embed_options={"renderer": "svg", "actions": False})
